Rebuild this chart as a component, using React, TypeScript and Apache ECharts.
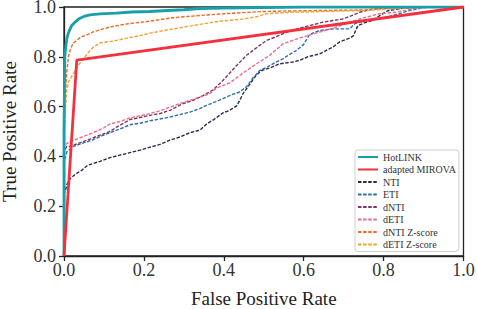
import React, { useEffect, useRef } from "react";
import * as echarts from "echarts";

const seriesNames = ["HotLINK", "adapted MIROVA", "NTI", "ETI", "dNTI", "dETI", "dNTI Z-score", "dETI Z-score"];

const hotlink: number[][] = [[0,0],[0,0.5],[0.002,0.8],[0.005,0.85],[0.008,0.88],[0.012,0.9],[0.019,0.925],[0.028,0.94],[0.04,0.955],[0.05,0.962],[0.065,0.968],[0.09,0.972],[0.13,0.975],[0.17,0.98],[0.215,0.982],[0.26,0.986],[0.3,0.989],[0.34,0.994],[0.4,0.996],[0.5,0.998],[0.6,1],[1,1]];
const mirova: number[][] = [[0,0],[0.032,0.787],[1,1]];
const nti: number[][] = [[0,0],[0,0.25],[0.003,0.26],[0.008,0.29],[0.015,0.31],[0.03,0.33],[0.045,0.345],[0.06,0.365],[0.09,0.38],[0.115,0.395],[0.14,0.405],[0.165,0.415],[0.19,0.425],[0.215,0.437],[0.24,0.448],[0.265,0.465],[0.29,0.478],[0.315,0.495],[0.34,0.505],[0.357,0.53],[0.375,0.548],[0.398,0.575],[0.415,0.585],[0.432,0.603],[0.44,0.625],[0.448,0.652],[0.465,0.69],[0.482,0.728],[0.495,0.745],[0.515,0.755],[0.54,0.772],[0.573,0.779],[0.59,0.786],[0.61,0.8],[0.64,0.812],[0.673,0.839],[0.69,0.86],[0.715,0.875],[0.725,0.885],[0.73,0.906],[0.736,0.926],[0.757,0.939],[0.773,0.946],[0.79,0.965],[0.81,0.985],[0.85,0.995],[0.9,1],[1,1]];
const eti: number[][] = [[0,0],[0,0.38],[0.004,0.4],[0.007,0.418],[0.023,0.44],[0.05,0.455],[0.073,0.467],[0.098,0.485],[0.115,0.495],[0.14,0.51],[0.165,0.527],[0.19,0.533],[0.215,0.543],[0.24,0.55],[0.265,0.558],[0.29,0.568],[0.315,0.578],[0.34,0.592],[0.357,0.605],[0.38,0.62],[0.398,0.632],[0.42,0.648],[0.44,0.659],[0.457,0.68],[0.473,0.715],[0.49,0.745],[0.51,0.76],[0.523,0.772],[0.548,0.792],[0.565,0.81],[0.582,0.826],[0.6,0.85],[0.615,0.89],[0.64,0.906],[0.673,0.912],[0.715,0.912],[0.728,0.933],[0.757,0.946],[0.807,0.959],[0.832,0.97],[0.865,0.986],[0.907,1],[1,1]];
const dnti: number[][] = [[0,0],[0,0.42],[0.007,0.44],[0.015,0.44],[0.035,0.452],[0.057,0.465],[0.09,0.485],[0.115,0.5],[0.132,0.518],[0.165,0.548],[0.19,0.556],[0.215,0.565],[0.24,0.572],[0.265,0.585],[0.298,0.612],[0.323,0.625],[0.34,0.638],[0.357,0.652],[0.373,0.667],[0.398,0.705],[0.415,0.735],[0.432,0.765],[0.457,0.806],[0.49,0.846],[0.507,0.866],[0.53,0.88],[0.56,0.9],[0.59,0.915],[0.607,0.922],[0.648,0.939],[0.698,0.952],[0.72,0.965],[0.74,0.979],[0.765,0.989],[0.8,0.995],[0.85,1],[1,1]];
const deti: number[][] = [[0,0],[0,0.44],[0.007,0.452],[0.02,0.462],[0.04,0.475],[0.073,0.495],[0.1,0.515],[0.115,0.53],[0.14,0.54],[0.165,0.555],[0.19,0.563],[0.215,0.572],[0.24,0.583],[0.265,0.598],[0.29,0.612],[0.315,0.625],[0.34,0.638],[0.365,0.652],[0.382,0.675],[0.415,0.695],[0.448,0.735],[0.482,0.772],[0.515,0.806],[0.548,0.852],[0.58,0.87],[0.62,0.89],[0.673,0.915],[0.71,0.935],[0.74,0.952],[0.79,0.973],[0.832,0.979],[0.873,0.993],[0.92,1],[1,1]];
const dntiZ: number[][] = [[0,0],[0,0.5],[0.003,0.64],[0.007,0.74],[0.011,0.8],[0.016,0.83],[0.023,0.855],[0.04,0.877],[0.06,0.89],[0.073,0.9],[0.1,0.913],[0.115,0.92],[0.157,0.932],[0.215,0.943],[0.273,0.957],[0.34,0.966],[0.42,0.975],[0.5,0.982],[0.6,0.985],[0.75,0.988],[0.8,0.995],[0.85,1],[1,1]];
const detiZ: number[][] = [[0,0],[0,0.45],[0.004,0.6],[0.007,0.67],[0.012,0.7],[0.019,0.72],[0.03,0.75],[0.04,0.775],[0.057,0.81],[0.073,0.838],[0.09,0.856],[0.123,0.863],[0.157,0.875],[0.19,0.885],[0.215,0.895],[0.273,0.912],[0.34,0.93],[0.39,0.943],[0.44,0.95],[0.48,0.96],[0.507,0.973],[0.56,0.978],[0.65,0.982],[0.75,0.986],[0.85,0.995],[0.9,1],[1,1]];

const seriesData = [hotlink, mirova, nti, eti, dnti, deti, dntiZ, detiZ];
const colors = ["#17a0a9", "#f5303d", "#2b2a4c", "#2f6db0", "#7b3767", "#ee6a8f", "#f06a24", "#f2a22e"];
const solid = [true, true, false, false, false, false, false, false];

const FONT = "'Liberation Serif', 'Times New Roman', serif";

export default function App() {
  const ref = useRef<HTMLDivElement>(null);
  useEffect(() => {
    if (!ref.current) return;
    const chart = echarts.init(ref.current, undefined, { renderer: "svg" });
    const series = seriesData.map((d, i) => ({
      name: seriesNames[i],
      type: "line",
      data: d,
      symbol: "none",
      showSymbol: false,
      z: solid[i] ? 4 : 3,
      lineStyle: solid[i]
        ? { color: colors[i], width: 2.8, type: "solid" }
        : { color: colors[i], width: 1.4, type: [3.5, 1.6] },
      itemStyle: { color: colors[i] },
    }));
    chart.setOption({
      animation: false,
      backgroundColor: "#ffffff",
      grid: { left: 64, right: 13.5, top: 7, bottom: 53, show: true, borderColor: "#222", borderWidth: 1.3, backgroundColor: "transparent", containLabel: false, outerBoundsMode: "none" },
      xAxis: {
        type: "value", min: 0, max: 1, interval: 0.2,
        name: "False Positive Rate", nameLocation: "middle", nameGap: 33,
        nameTextStyle: { fontFamily: FONT, fontSize: 19, color: "#222" },
        axisLine: { show: true, lineStyle: { color: "#222", width: 1.3 } },
        axisTick: { show: true, length: 5, lineStyle: { color: "#222", width: 1.3 } },
        axisLabel: { fontFamily: FONT, fontSize: 18, color: "#333", margin: 5, formatter: (v: number) => v.toFixed(1) },
        splitLine: { show: false },
      },
      yAxis: {
        type: "value", min: 0, max: 1, interval: 0.2,
        name: "True Positive Rate", nameLocation: "middle", nameGap: 45,
        nameTextStyle: { fontFamily: FONT, fontSize: 19, color: "#222" },
        axisLine: { show: true, lineStyle: { color: "#222", width: 1.3 } },
        axisTick: { show: true, length: 5, lineStyle: { color: "#222", width: 1.3 } },
        axisLabel: { fontFamily: FONT, fontSize: 18, lineHeight: 14, padding: [4, 0, 0, 0], color: "#333", margin: 8, formatter: (v: number) => v.toFixed(1) },
        splitLine: { show: false },
      },
      legend: {
        data: seriesNames,
        orient: "vertical",
        left: 355,
        top: 150,
        padding: [1, 3, 1, 2],
        itemGap: 0.5,
        itemWidth: 20,
        itemHeight: 10,
        itemStyle: { opacity: 0 },
        backgroundColor: "#fff",
        borderColor: "#cfcfcf",
        borderWidth: 1,
        borderRadius: 3,
        textStyle: { fontFamily: FONT, fontSize: 10, color: "#333", lineHeight: 12 },
      },
      series,
    });
    return () => chart.dispose();
  }, []);
  return <div ref={ref} style={{ width: 477, height: 309, position: "absolute", left: 0, top: 0 }} />;
}
